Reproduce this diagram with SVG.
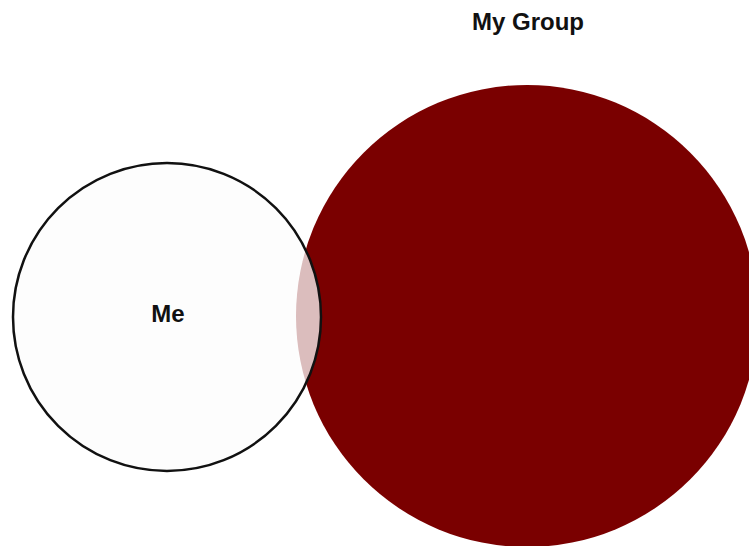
<svg xmlns="http://www.w3.org/2000/svg" width="749" height="546" viewBox="0 0 749 546">
<style>
.lbl{font-family:"Liberation Sans",Arial,sans-serif;font-weight:bold;font-size:24px;fill:#111;text-anchor:middle}
</style>
<rect width="749" height="546" fill="#ffffff"/>
<g id="group">
<circle cx="527" cy="316" r="231" fill="#7a0000"/>
<text class="lbl" x="528" y="30">My Group</text>
</g>
<g id="me">
<circle cx="167" cy="317" r="154" fill="#fcfcfc" fill-opacity="0.75" stroke="#111" stroke-width="2.5"/>
<text class="lbl" x="168" y="322">Me</text>
</g>
<g id="connectors"></g>
</svg>
